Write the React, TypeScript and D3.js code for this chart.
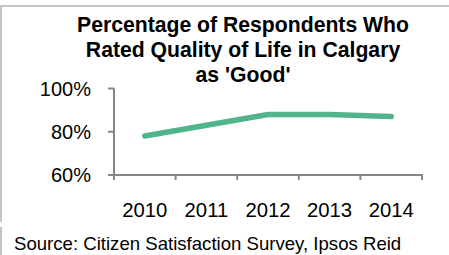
import React from "react";
import * as d3 from "d3";

const years = ["2010", "2011", "2012", "2013", "2014"];
const values = [78, 83, 88, 88, 87];
const yTicks = [60, 80, 100];
const titleLines = ["Percentage of Respondents Who", "Rated Quality of Life in Calgary", "as 'Good'"];
const sourceText = "Source: Citizen Satisfaction Survey, Ipsos Reid";

export default function App() {
  const W = 449, H = 255;
  const x = d3.scaleBand<string>().domain(years).range([114, 422]);
  const y = d3.scaleLinear().domain([60, 100]).range([175, 88.5]);
  const line = d3
    .line<number>()
    .x((_, i) => (x(years[i]) as number) + x.bandwidth() / 2)
    .y((d) => y(d));
  const font = "'Liberation Sans', Arial, sans-serif";
  const axisColor = "#868686";
  const edges = [...years.map((yr) => x(yr) as number), x.range()[1]];
  return (
    <div style={{ position: "absolute", left: 0, top: 0 }}>
      <svg width={W} height={H} style={{ display: "block" }}>
        <rect x={0} y={0} width={W} height={H} fill="#fff" />
        <line x1={0} x2={W} y1={6} y2={6} stroke="#c4c4c4" strokeWidth={2} />
        <line x1={1} x2={1} y1={5} y2={222} stroke="#c4c4c4" strokeWidth={2} />
        <line x1={1} x2={1} y1={227} y2={H} stroke="#c4c4c4" strokeWidth={2} />
        {titleLines.map((t, i) => (
          <text
            key={i}
            x={243}
            y={31.5 + i * 25}
            textAnchor="middle"
            fontFamily={font}
            fontWeight="bold"
            fontSize={21.2}
            fill="#000"
          >
            {t}
          </text>
        ))}
        <line x1={114} x2={114} y1={y(100)} y2={y(60) + 5} stroke={axisColor} strokeWidth={2} />
        {yTicks.map((t) => (
          <g key={t}>
            <line x1={108} x2={114} y1={y(t)} y2={y(t)} stroke={axisColor} strokeWidth={2} />
            <text
              x={91}
              y={y(t)}
              dy="0.36em"
              textAnchor="end"
              fontFamily={font}
              fontSize={20}
              fill="#000"
            >
              {t}%
            </text>
          </g>
        ))}
        <line x1={113} x2={x.range()[1] + 1} y1={y(60)} y2={y(60)} stroke={axisColor} strokeWidth={2} />
        {edges.map((e, i) => (
          <line key={i} x1={e} x2={e} y1={y(60)} y2={y(60) + 5} stroke={axisColor} strokeWidth={2} />
        ))}
        {years.map((yr) => (
          <text
            key={yr}
            x={(x(yr) as number) + x.bandwidth() / 2}
            y={217}
            textAnchor="middle"
            fontFamily={font}
            fontSize={20.3}
            fill="#000"
          >
            {yr}
          </text>
        ))}
        <path
          d={line(values) || ""}
          fill="none"
          stroke="#52b48a"
          strokeWidth={5.5}
          strokeLinecap="round"
          strokeLinejoin="round"
        />
        <text x={14} y={250} fontFamily={font} fontSize={18.6} fill="#000">
          {sourceText}
        </text>
      </svg>
    </div>
  );
}
